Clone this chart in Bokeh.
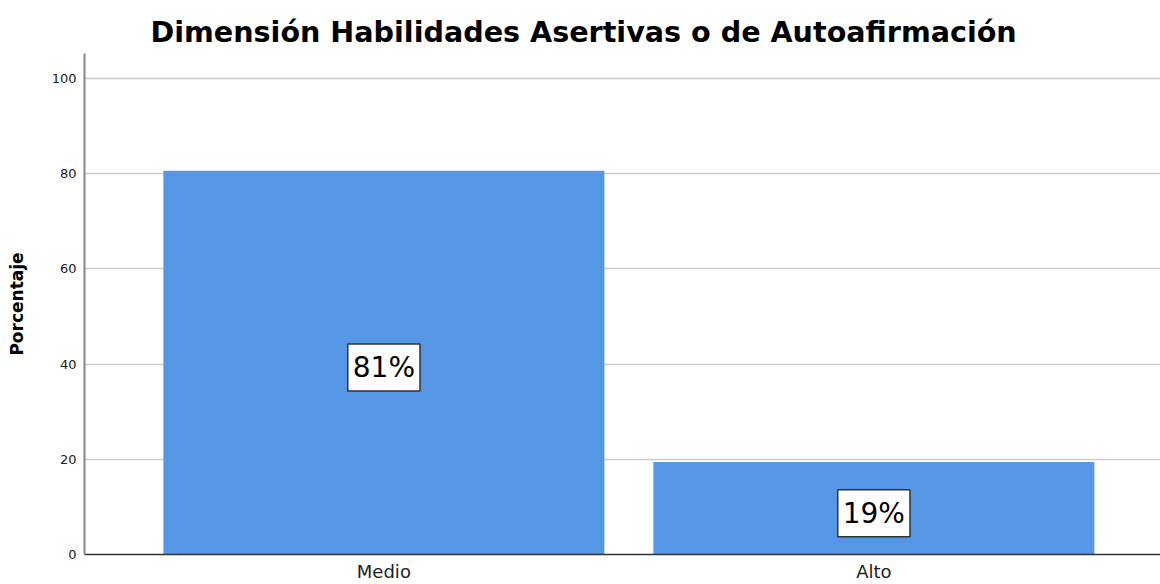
from bokeh.plotting import figure
from bokeh.models import ColumnDataSource, Title, FixedTicker
from bokeh.core.properties import value
from bokeh.embed import file_html
from bokeh.resources import INLINE

categories = ["Medio", "Alto"]
values = [80.6, 19.4]
labels = ["81%", "19%"]
y_ticks = [0, 20, 40, 60, 80, 100]

xs = [0.5 + i for i in range(len(categories))]
src = ColumnDataSource(dict(x=xs, top=values, half=[v / 2 for v in values], lab=labels))

p = figure(width=1160, height=584, output_backend="svg", toolbar_location=None,
           x_range=(-0.111, 2.085), y_range=(0, 105.2),
           min_border_left=84, min_border_right=0, min_border_top=53, min_border_bottom=29)
p.title = None
t = Title(text="Dimensión Habilidades Asertivas o de Autoafirmación", align="left", offset=66,
          text_font="DejaVu Sans", text_font_size="28.6px", text_font_style="bold",
          text_color="#000000")
p.add_layout(t, "above")

p.vbar(x="x", top="top", width=0.9, source=src, fill_color="#5596e5", line_color=None)

p.text(x="x", y="half", text="lab", source=src, text_align="center", text_baseline="middle",
       y_offset=5, text_font=value("DejaVu Sans"), text_font_size="28px", text_color="#000000",
       background_fill_color="white", border_line_color="#333333", border_line_width=1.5,
       padding=(5, 7))

p.xaxis.ticker = FixedTicker(ticks=xs)
p.xaxis.major_label_overrides = {x: c for x, c in zip(xs, categories)}
p.xaxis.major_label_text_font = "DejaVu Sans"
p.xaxis.major_label_text_font_size = "18px"
p.xaxis.major_label_text_color = "#222222"
p.xaxis.major_tick_line_color = None
p.xaxis.major_tick_out = 0
p.xaxis.major_tick_in = 0
p.xaxis.minor_tick_line_color = None
p.xaxis.minor_tick_out = 0
p.xaxis.axis_line_color = "#333333"
p.xaxis.axis_line_width = 1.5
p.xaxis.major_label_standoff = 6

p.yaxis.ticker = FixedTicker(ticks=y_ticks)
p.yaxis.major_label_text_font = "DejaVu Sans"
p.yaxis.major_label_text_font_size = "13px"
p.yaxis.major_label_text_color = "#222222"
p.yaxis.major_tick_line_color = None
p.yaxis.major_tick_out = 0
p.yaxis.major_tick_in = 0
p.yaxis.minor_tick_line_color = None
p.yaxis.minor_tick_out = 0
p.yaxis.axis_line_color = "#888888"
p.yaxis.axis_line_width = 2
p.yaxis.major_label_standoff = 8
p.yaxis.axis_label = "Porcentaje"
p.yaxis.axis_label_text_font = "DejaVu Sans"
p.yaxis.axis_label_text_font_size = "17px"
p.yaxis.axis_label_text_font_style = "bold"
p.yaxis.axis_label_text_color = "#000000"
p.yaxis.axis_label_standoff = 22

p.xgrid.grid_line_color = None
p.ygrid.grid_line_color = "#cccccc"
p.ygrid.grid_line_width = 1.5
p.outline_line_color = None

open("out.html", "w").write(file_html(p, INLINE))
